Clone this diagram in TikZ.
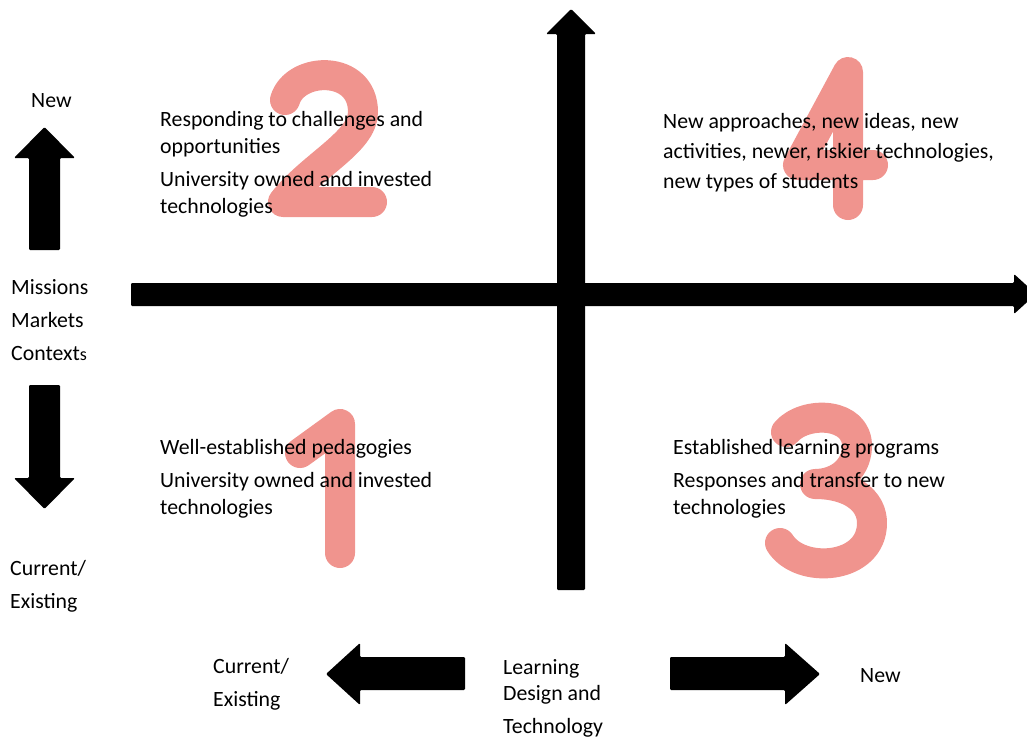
\documentclass[tikz,border=0pt]{standalone}
\usepackage{fontspec}
\setmainfont{Carlito}
\begin{document}
\begin{tikzpicture}[x=1pt,y=-1pt,
  txt/.style={anchor=base west, inner sep=0pt, font=\fontsize{21.8}{26}\selectfont, text=black},
  digit/.style={draw=numcol, line width=30pt, line cap=round, line join=round},
  blockarrow/.style={fill=black, rounded corners=1.2pt}]
\definecolor{numcol}{RGB}{240,148,142}
\useasboundingbox (0,0) rectangle (1027,737);
\clip (0,0) rectangle (1027,737);
% big quadrant numbers
% 2
\draw[digit] (285,100) .. controls (295,66) and (363,64) .. (363,112)
   .. controls (363,142) and (312,165) .. (283,202) -- (372,202);
% 4
\draw[digit] (848,205) -- (848,72) -- (798,165) -- (873,165);
% 1
\draw[digit] (340,553) -- (340,424) -- (300,453);
% 3
\draw[digit] (786,432) .. controls (805,410) and (858,412) .. (857,447)
   .. controls (856,472) and (835,484) .. (815,484)
   .. controls (850,484) and (872,500) .. (872,523)
   .. controls (872,570) and (800,575) .. (780,543);
% main axes
\fill[blockarrow] (131,283) -- (1014,283) -- (1014,274) -- (1036,294) -- (1014,314) -- (1014,306) -- (131,306) -- cycle;
\fill[blockarrow] (557,590) -- (557,34) -- (546,34) -- (571,9) -- (596,34) -- (585,34) -- (585,590) -- cycle;
% side arrows
\fill[blockarrow] (29,250) -- (29,158) -- (14,158) -- (44.5,127) -- (75,158) -- (60,158) -- (60,250) -- cycle;
\fill[blockarrow] (29,385) -- (29,478) -- (14,478) -- (44.5,509) -- (75,478) -- (60,478) -- (60,385) -- cycle;
\fill[blockarrow] (465,657) -- (360,657) -- (360,643) -- (326,674) -- (360,705) -- (360,690) -- (465,690) -- cycle;
\fill[blockarrow] (670,657) -- (785,657) -- (785,643) -- (820,674) -- (785,705) -- (785,690) -- (670,690) -- cycle;
% left labels
\node[txt] (ln) at (31,107) {New};
\node[txt] (lm1) at (11,294) {Missions};
\node[txt] (lm2) at (11,327) {Markets};
\node[txt] (lm3) at (11,360) {Context{\fontsize{18}{20}\selectfont s}};
\node[txt] (lc1) at (10,575) {Current/};
\node[txt] (lc2) at (10,608) {Existing};
% quadrant 2
\node[txt] (q2a) at (160,126) {Responding to challenges and};
\node[txt] (q2b) at (160,153) {opportunities};
\node[txt] (q2c) at (160,186) {University owned and invested};
\node[txt] (q2d) at (160,213) {technologies};
% quadrant 4
\node[txt] (q4a) at (663,128) {New approaches, new ideas, new};
\node[txt] (q4b) at (663,158) {activities, newer, riskier technologies,};
\node[txt] (q4c) at (663,188) {new types of students};
% quadrant 1
\node[txt] (q1a) at (160,454) {Well-established pedagogies};
\node[txt] (q1b) at (160,487) {University owned and invested};
\node[txt] (q1c) at (160,514) {technologies};
% quadrant 3
\node[txt] (q3a) at (673,454) {Established learning programs};
\node[txt] (q3b) at (673,487) {Responses and transfer to new};
\node[txt] (q3c) at (673,514) {technologies};
% bottom labels
\node[txt] (bc1) at (213,673) {Current/};
\node[txt] (bc2) at (213,706) {Existing};
\node[txt] (bl1) at (503,674) {Learning};
\node[txt] (bl2) at (503,700) {Design and};
\node[txt] (bl3) at (503,733) {Technology};
\node[txt] (bn) at (860,682) {New};
\end{tikzpicture}
\end{document}
